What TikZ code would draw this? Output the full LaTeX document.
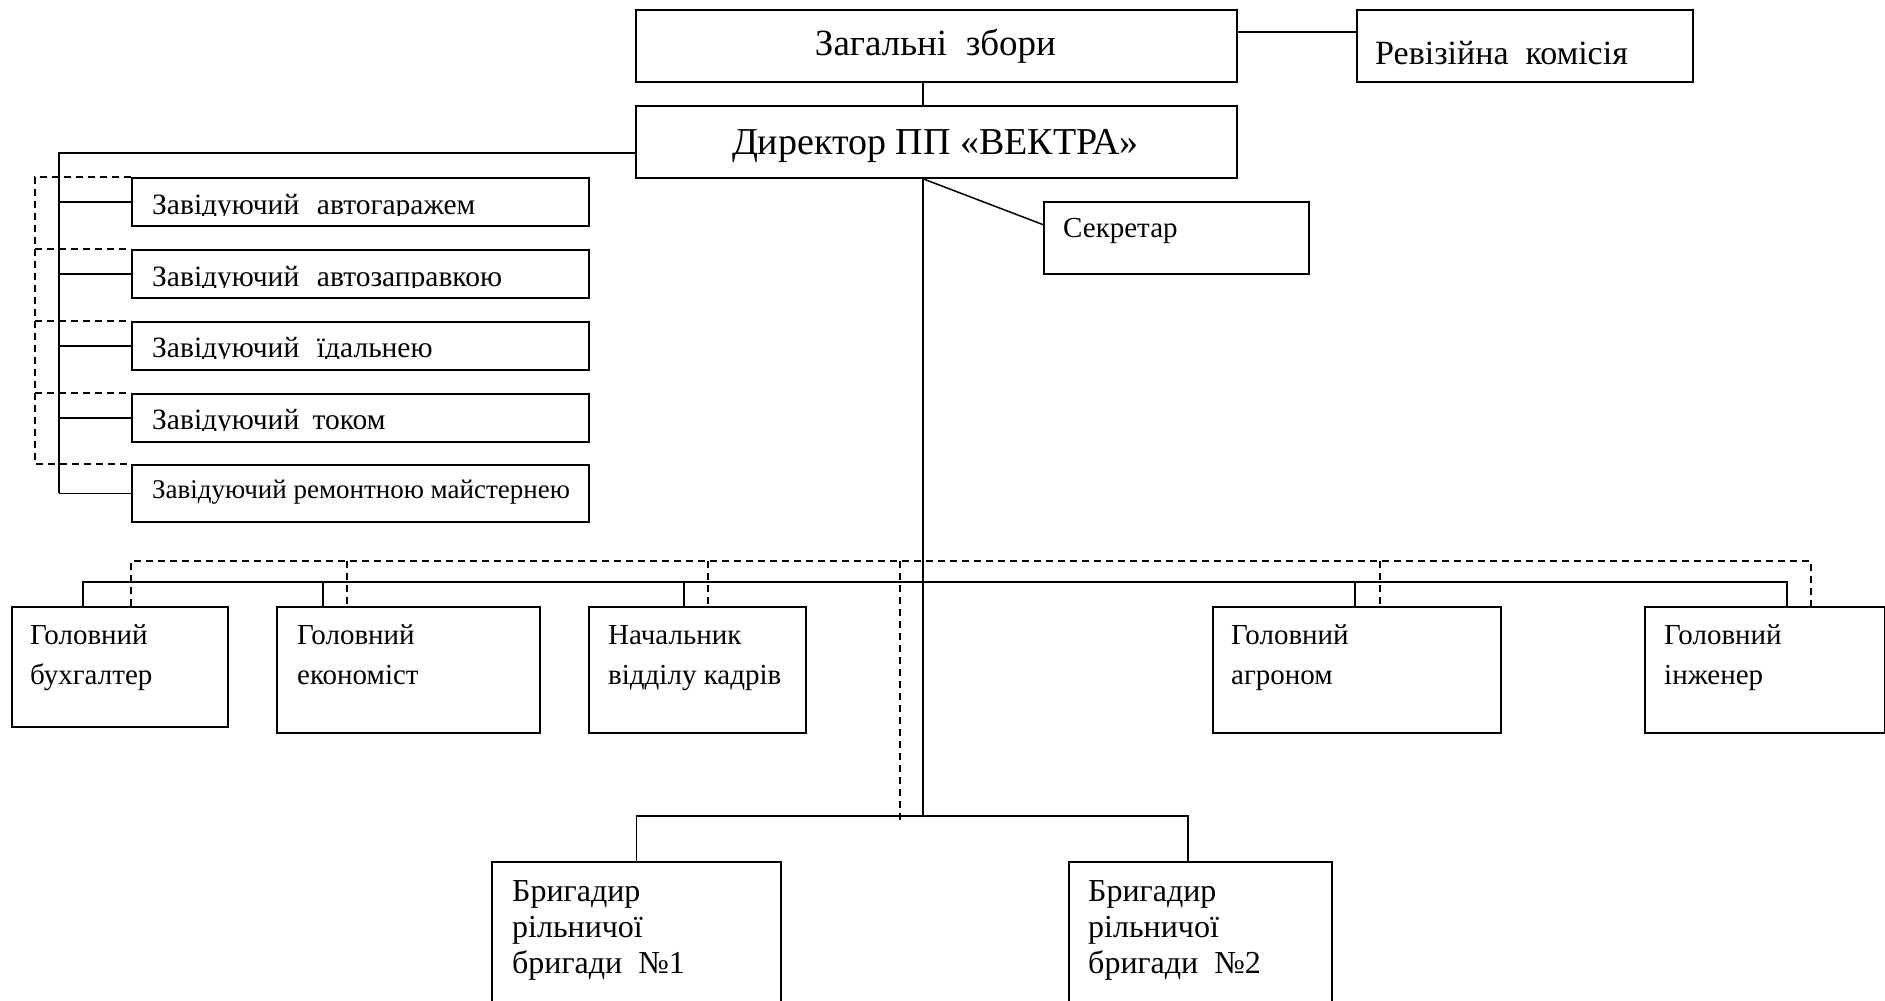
\documentclass[tikz,border=0pt]{standalone}
\usepackage{fontspec}
\setmainfont{Liberation Serif}
\usetikzlibrary{calc}
\begin{document}
\begin{tikzpicture}[x=1pt,y=-1pt,
  box/.style={draw, line width=1.8pt, inner sep=0pt, anchor=north west},
  ln/.style={line width=1.5pt},
  dsh/.style={line width=1.5pt, dash pattern=on 7pt off 5pt},
  txt/.style={inner sep=0pt, anchor=base west},
  ctxt/.style={inner sep=0pt, anchor=base},
  fzb/.style={font=\fontsize{37}{44}\selectfont},
  fdir/.style={font=\fontsize{38}{44}\selectfont},
  frev/.style={font=\fontsize{34}{40}\selectfont},
  fleft/.style={font=\fontsize{29.5}{34}\selectfont},
  fleftb/.style={font=\fontsize{27}{32}\selectfont},
  frow/.style={font=\fontsize{29}{40}\selectfont},
  fbr/.style={font=\fontsize{32}{36}\selectfont},
]
\useasboundingbox (0,0) rectangle (1885,1001);
\clip (0,0) rectangle (1885,1001);

% top boxes
\node[box, minimum width=601pt, minimum height=72pt] (zb) at (635,9) {};
\node[ctxt, fzb] (zbt) at (935.5,55) {Загальні\ \ збори};
\node[box, minimum width=336pt, minimum height=72pt] (rk) at (1356,9) {};
\node[txt, frev] (rkt) at (1375,64) {Ревізійна\ \ комісія};
\node[box, minimum width=601pt, minimum height=72pt] (dir) at (635,105) {};
\node[ctxt, fdir] (dirt) at (935.5,154) {Директор ПП «ВЕКТРА»};
\node[box, minimum width=265pt, minimum height=72pt] (sec) at (1043,201) {};
\node[txt, frow] (sect) at (1063,237) {Секретар};

% left boxes
\node[box, minimum width=457pt, minimum height=48pt] (la) at (131,177) {};
\node[box, minimum width=457pt, minimum height=48pt] (lb) at (131,249) {};
\node[box, minimum width=457pt, minimum height=48pt] (lc) at (131,321) {};
\node[box, minimum width=457pt, minimum height=48pt] (ld) at (131,393) {};
\node[box, minimum width=457pt, minimum height=57pt] (le) at (131,464) {};
\begin{scope}
\clip (131,177) rectangle (588,215.5);
\node[txt, fleft] (lat) at (152,214) {Завідуючий\hspace{0.6em}автогаражем};
\end{scope}
\begin{scope}
\clip (131,249) rectangle (588,287.5);
\node[txt, fleft] (lbt) at (152,286) {Завідуючий\hspace{0.6em}автозаправкою};
\end{scope}
\begin{scope}
\clip (131,321) rectangle (588,358.5);
\node[txt, fleft] (lct) at (152,357) {Завідуючий\hspace{0.6em}їдальнею};
\end{scope}
\begin{scope}
\clip (131,393) rectangle (588,430.5);
\node[txt, fleft] (ldt) at (152,429) {Завідуючий\hspace{0.45em}током};
\end{scope}
\node[txt, fleftb] (let) at (152,498) {Завідуючий ремонтною майстернею};

% middle row boxes
\node[box, minimum width=216pt, minimum height=120pt] (gb) at (11,606) {};
\node[box, minimum width=263pt, minimum height=126pt] (ge) at (276,606) {};
\node[box, minimum width=217pt, minimum height=126pt] (gk) at (588,606) {};
\node[box, minimum width=288pt, minimum height=126pt] (ga) at (1212,606) {};
\node[box, minimum width=240pt, minimum height=126pt] (gi) at (1644,606) {};
\node[txt, frow] (gbt) at (30,644) {\begin{tabular}[t]{@{}l@{}}Головний\\бухгалтер\end{tabular}};
\node[txt, frow] (get) at (297,644) {\begin{tabular}[t]{@{}l@{}}Головний\\економіст\end{tabular}};
\node[txt, frow] (gkt) at (608,644) {\begin{tabular}[t]{@{}l@{}}Начальник\\відділу кадрів\end{tabular}};
\node[txt, frow] (gat) at (1231,644) {\begin{tabular}[t]{@{}l@{}}Головний\\агроном\end{tabular}};
\node[txt, frow] (git) at (1664,644) {\begin{tabular}[t]{@{}l@{}}Головний\\інженер\end{tabular}};

% bottom boxes
\node[box, minimum width=289pt, minimum height=200pt] (bb1) at (491,861) {};
\node[box, minimum width=263pt, minimum height=200pt] (bb2) at (1068,861) {};
\node[txt, fbr] (bb1t) at (512,901) {\begin{tabular}[t]{@{}l@{}}Бригадир\\рільничої\\бригади\ \ №1\end{tabular}};
\node[txt, fbr] (bb2t) at (1088,901) {\begin{tabular}[t]{@{}l@{}}Бригадир\\рільничої\\бригади\ \ №2\end{tabular}};

% helper coordinates
\coordinate (sp) at (923,0);
\coordinate (r1) at (0,32);
\coordinate (lt) at (59,153);
\coordinate (dl) at (35,0);
\coordinate (bus) at (0,582);
\coordinate (dbus) at (0,561);
\coordinate (br) at (0,816);
\coordinate (dv) at (900,820);
\coordinate (s1) at ($(gb.north west)+(72,0)$);
\coordinate (s2) at ($(ge.north west)+(47,0)$);
\coordinate (s3) at ($(gk.north west)+(96,0)$);
\coordinate (s4) at ($(ga.north west)+(143,0)$);
\coordinate (s5) at ($(gi.north west)+(143,0)$);
\coordinate (d1) at ($(gb.north west)+(120,0)$);
\coordinate (d2) at ($(ge.north west)+(71,0)$);
\coordinate (d3) at ($(gk.north west)+(120,0)$);
\coordinate (d4) at ($(ga.north west)+(168,0)$);
\coordinate (d5) at ($(gi.north west)+(167,0)$);
\coordinate (c2) at ($(bb2.north west)+(120,0)$);

% top connectors
\draw[ln] (zb.east |- r1) -- (rk.west |- r1);
\draw[ln] (zb.south -| sp) -- (dir.north -| sp);
\draw[ln] (dir.south -| sp) -- ($(sec.north west)!0.32!(sec.south west)$);

% left tree
\draw[ln] (dir.west |- lt) -- (lt) -- (lt |- le.west);
\draw[ln] (lt |- la.west) -- (la.west);
\draw[ln] (lt |- lb.west) -- (lb.west);
\draw[ln] (lt |- lc.west) -- (lc.west);
\draw[ln] (lt |- ld.west) -- (ld.west);
\draw[ln] (lt |- le.west) -- (le.west);
\draw[dsh] (la.north west) -- (la.north west -| dl) -- (le.north west -| dl) -- (le.north west);
\draw[dsh] (lb.north west -| dl) -- (lb.north west);
\draw[dsh] (lc.north west -| dl) -- (lc.north west);
\draw[dsh] (ld.north west -| dl) -- (ld.north west);

% spine and buses
\draw[ln] (dir.south -| sp) -- (sp |- br);
\draw[ln] (s1) -- (s1 |- bus) -- (s5 |- bus) -- (s5);
\draw[ln] (s2 |- bus) -- (s2);
\draw[ln] (s3 |- bus) -- (s3);
\draw[ln] (s4 |- bus) -- (s4);
\draw[dsh] (d1) -- (d1 |- dbus) -- (d5 |- dbus) -- (d5);
\draw[dsh] (d2 |- dbus) -- (d2);
\draw[dsh] (d3 |- dbus) -- (d3);
\draw[dsh] (d4 |- dbus) -- (d4);
\draw[dsh] (dv |- dbus) -- (dv);

% bottom
\draw[ln] (bb1.north) -- (bb1.north |- br) -- (c2 |- br) -- (c2);
\end{tikzpicture}
\end{document}
